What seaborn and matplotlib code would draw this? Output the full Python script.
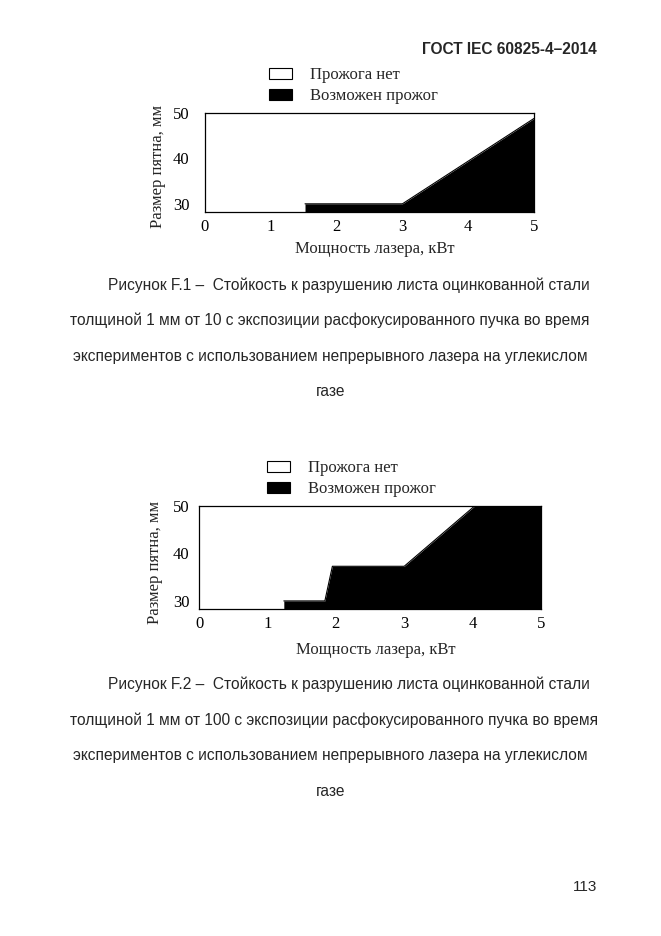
import numpy as np
import pandas as pd
import matplotlib
matplotlib.use("Agg")
import matplotlib.pyplot as plt
from matplotlib.patches import Patch
import seaborn as sns

# --- data ---
legend_labels = ["Прожога нет", "Возможен прожог"]
x_ticks = [0, 1, 2, 3, 4, 5]
y_ticks = [30, 40, 50]

# F.1 : boundary of the "burn possible" zone (power kW, spot size mm)
f1_power = [1.52, 3.0, 5.0]
f1_spot = [30.0, 30.0, 48.8]

# F.2
f2_power = [1.24, 1.84, 1.95, 3.0, 4.03, 5.0]
f2_spot = [30.0, 30.0, 37.3, 37.3, 50.0, 50.0]

caption1 = ["Рисунок F.1 –  Стойкость к разрушению листа оцинкованной стали",
            "толщиной 1 мм от 10 с экспозиции расфокусированного пучка во время",
            "экспериментов с использованием непрерывного лазера на углекислом",
            "газе"]
caption2 = ["Рисунок F.2 –  Стойкость к разрушению листа оцинкованной стали",
            "толщиной 1 мм от 100 с экспозиции расфокусированного пучка во время",
            "экспериментов с использованием непрерывного лазера на углекислом",
            "газе"]

sns.set_style("white")
plt.rcParams['font.family'] = ['Liberation Serif', 'DejaVu Serif']

W, H = 661, 936
fig = plt.figure(figsize=(W / 100, H / 100), dpi=100)


def fx(x):
    return x / W


def fy(y):
    return 1 - y / H


def draw_chart(rect, power, spot, ymin, ytick_pad, xtick_pad):
    left, top, right, bottom = rect
    ax = fig.add_axes([fx(left), fy(bottom), fx(right - left), (bottom - top) / H])
    df = pd.DataFrame({"power": power, "spot": spot})
    ax.fill_between(df["power"], ymin, df["spot"], color="black", lw=0)
    sns.lineplot(data=df, x="power", y="spot", ax=ax, color="black", lw=0.8)
    ax.set_xlim(0, 5)
    ax.set_ylim(ymin, 50)
    ax.set_xticks(x_ticks)
    ax.set_yticks(y_ticks)
    ax.set_xlabel("")
    ax.set_ylabel("")
    ax.tick_params(axis="both", direction="in", length=5, width=0.8,
                   colors="black", labelsize=12)
    ax.tick_params(axis="y", pad=ytick_pad)
    ax.tick_params(axis="x", pad=xtick_pad)
    for s in ax.spines.values():
        s.set_visible(True)
        s.set_color("black")
        s.set_linewidth(0.9)
    return ax


def draw_legend(left, top):
    handles = [Patch(facecolor="white", edgecolor="black", lw=0.8),
               Patch(facecolor="black", edgecolor="black", lw=0.8)]
    fig.legend(handles, legend_labels, loc="upper left",
               bbox_to_anchor=(fx(left), fy(top)), frameon=False,
               fontsize=12, handlelength=1.38, handleheight=0.63,
               handletextpad=1.08, labelspacing=0.3, borderpad=0,
               borderaxespad=0)


# chart F.1
draw_chart((205, 113, 534, 212), f1_power, f1_spot, 28.2, 11, 5)
draw_legend(269, 67)
fig.text(fx(158), fy(166), "Размер пятна, мм", rotation=90,
         ha="center", va="center", fontsize=12)
fig.text(fx(375), fy(249), "Мощность лазера, кВт",
         ha="center", va="center", fontsize=12)

# chart F.2
draw_chart((199, 506, 541, 609), f2_power, f2_spot, 28.3, 7, 5)
draw_legend(267, 460)
fig.text(fx(155), fy(562), "Размер пятна, мм", rotation=90,
         ha="center", va="center", fontsize=12)
fig.text(fx(376), fy(650), "Мощность лазера, кВт",
         ha="center", va="center", fontsize=12)

# page texts
sans = ['Liberation Sans', 'DejaVu Sans']
fig.text(fx(597), fy(49), "ГОСТ IEC 60825-4–2014", ha="right", va="center",
         fontsize=11.2, fontweight="bold", family=sans)
fig.text(fx(597), fy(887), "113", ha="right", va="center",
         fontsize=11, family=sans)

starts = [108, 70, 73]
for lines, base in ((caption1, 290), (caption2, 689)):
    for i, line in enumerate(lines):
        yb = base + i * 35.5
        if i < 3:
            fig.text(fx(starts[i]), fy(yb), line, ha="left", va="baseline",
                     fontsize=11.2, family=sans)
        else:
            fig.text(fx(331), fy(yb), line, ha="center", va="baseline",
                     fontsize=11.2, family=sans)

fig.savefig("out.png", dpi=100, facecolor="white")
